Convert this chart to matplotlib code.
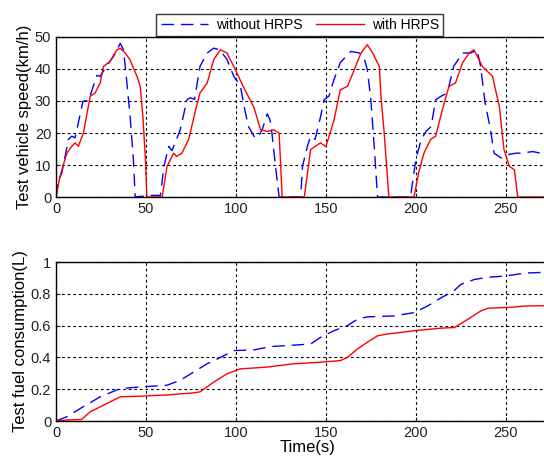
import numpy as np
import matplotlib.pyplot as plt

plt.rcParams['font.family'] = ['Liberation Sans', 'DejaVu Sans']

# speed without HRPS (blue dashed)
t_spd_a = [0, 1.3, 3.2, 6.9, 8.7, 10.6, 15, 18, 22.7, 24.5, 28, 32, 35.7, 37.5, 39.4,
           41.2, 43, 44, 52, 58, 60, 62.6, 64.5, 69, 72.8, 74.7, 77, 80, 84, 87.6, 91,
           95, 98.8, 102.5, 105, 107, 110, 112, 114.6, 117.4, 119, 120, 122, 124, 136,
           137, 139.7, 141.5, 144, 147, 149, 151.7, 154.5, 158, 163.8, 168.5, 171, 173,
           175, 177, 178.7, 197, 200, 203, 205.6, 208.5, 211, 214, 217.5, 221, 226,
           230.6, 234, 236, 238.5, 241.5, 243.5, 247.4, 251, 255.6, 258.5, 265, 271]
v_spd_a = [0, 5, 7.5, 18, 19, 18.5, 30, 30, 38, 37.7, 40.8, 44, 48, 46, 35.6,
           25, 11.7, 0, 0.5, 0.5, 9.6, 15.8, 14.5, 21, 30.4, 31, 30.5, 40.8, 45, 46.5, 46,
           43, 37.7, 34.6, 27, 22, 19, 18.4, 21, 26, 24, 20, 9.6, 0, 0,
           9.6, 15.8, 19, 18, 25, 30.4, 31.5, 36.7, 42, 45.5, 45, 44, 39.8,
           30.4, 14.8, 0, 0, 11.7, 18, 20.5, 22, 30.4, 31.5, 32.5, 40.8, 45,
           45, 46, 40.8, 29.4, 21, 13.7, 12.2, 13.2, 13.7, 13.7, 14.2, 13.5]

# speed with HRPS (red solid)
t_spd_b = [0, 2.2, 6, 8.7, 10.6, 12.4, 15.2, 19, 21.7, 24.5, 26.4, 30, 33.8, 35.7, 38.4,
           41, 45, 46.8, 48.3, 49.6, 50.5, 59, 61.7, 65.4, 67, 70, 73.7, 77.5, 80, 84,
           87.7, 91.4, 95, 98.8, 104, 110, 113.7, 117.4, 121, 124, 125.7, 138, 141.5,
           144, 147, 150, 154.5, 158, 162, 165.8, 169.5, 173, 176, 179.7, 180.6, 182.4,
           185, 199, 201.5, 204.5, 208.2, 211, 214.6, 218.4, 222, 226, 229.6, 232.3,
           237, 242.6, 246.4, 249, 252, 254.8, 256.6, 271]
v_spd_b = [0, 6.5, 13.7, 15.8, 16.9, 15.8, 20, 31.5, 32.5, 35.6, 40.8, 42.4, 46, 46.5, 45,
           43, 37.7, 34.6, 25, 12.7, 0, 0, 9.6, 13.7, 12.7, 13.7, 18, 27, 32.5, 35.6,
           43, 46, 45, 40.8, 34.6, 28, 21, 20.5, 21, 20, 0, 0, 14.8,
           15.8, 16.9, 15.8, 24, 33.5, 34.6, 39.8, 45, 47.6, 45, 40.8, 31.5, 20,
           0, 0, 7.5, 13.7, 18, 19, 27, 34.6, 35.6, 42, 45, 46,
           40.8, 37.7, 28.3, 14.8, 9.6, 8.5, 0, 0]

# fuel consumption without HRPS
t_fuel_a = [0, 6, 15, 24.5, 35.7, 46.8, 61.7, 69, 76.5, 84, 91.4, 98.8, 110, 119, 136,
            141.5, 147, 154.5, 162, 167.5, 173, 188, 199, 206.5, 214, 221, 225, 232.5,
            240, 247.4, 254.8, 260, 271]
f_fuel_a = [0, 0.027, 0.089, 0.152, 0.204, 0.214, 0.225, 0.256, 0.308, 0.36, 0.40, 0.443,
            0.447, 0.468, 0.48, 0.484, 0.526, 0.568, 0.6, 0.64, 0.655, 0.661, 0.682, 0.723,
            0.775, 0.817, 0.859, 0.89, 0.904, 0.91, 0.92, 0.93, 0.935]

# fuel consumption with HRPS
t_fuel_b = [0, 6, 14.3, 19, 24.5, 35.7, 46.8, 61.7, 76.5, 80, 87.7, 95, 102.5, 117.4,
            132, 147, 158, 162, 167.5, 173, 178.7, 184, 191.6, 199, 214, 221.5, 229,
            236, 240, 247.4, 254.8, 260, 271]
f_fuel_b = [0, 0.006, 0.01, 0.058, 0.089, 0.152, 0.156, 0.164, 0.177, 0.183, 0.245, 0.297,
            0.328, 0.339, 0.36, 0.37, 0.38, 0.40, 0.453, 0.495, 0.536, 0.547, 0.557, 0.568,
            0.584, 0.588, 0.64, 0.692, 0.709, 0.713, 0.717, 0.723, 0.725]

x_ticks = [0, 50, 100, 150, 200, 250]
spd_ticks = [0, 10, 20, 30, 40, 50]
fuel_ticks = [0, 0.2, 0.4, 0.6, 0.8, 1.0]
fuel_labels = ['0', '0.2', '0.4', '0.6', '0.8', '1']

fig = plt.figure(figsize=(5.44, 4.63), dpi=100)
ax1 = fig.add_axes([0.103, 0.5745, 0.926, 0.3456])
ax2 = fig.add_axes([0.103, 0.0907, 0.926, 0.3434])

dash = (0, (9, 5))
grid_kw = dict(color='black', linestyle=(0, (2.5, 2.5)), linewidth=0.8)

ax1.plot(t_spd_a, v_spd_a, color='#0000ff', linestyle=dash, linewidth=1.0, label='without HRPS')
ax1.plot(t_spd_b, v_spd_b, color='#ff0000', linewidth=1.0, label='with HRPS')
ax2.plot(t_fuel_a, f_fuel_a, color='#0000ff', linestyle=dash, linewidth=1.0)
ax2.plot(t_fuel_b, f_fuel_b, color='#ff0000', linewidth=1.0)

for ax in (ax1, ax2):
    ax.set_xlim(0, 280)
    ax.set_xticks(x_ticks)
    ax.grid(True, **grid_kw)
    ax.tick_params(direction='in', length=3, labelsize=10.5, colors='#222222')
    for s in ax.spines.values():
        s.set_linewidth(1.0)

ax1.set_ylim(0, 50)
ax1.set_yticks(spd_ticks)
ax1.set_ylabel('Test vehicle speed(km/h)', fontsize=12, labelpad=2)
ax2.set_ylim(0, 1)
ax2.set_yticks(fuel_ticks)
ax2.set_yticklabels(fuel_labels)
ax2.set_ylabel('Test fuel consumption(L)', fontsize=12, labelpad=2)
ax2.set_xlabel('Time(s)', fontsize=12, labelpad=0)

leg = ax1.legend(loc='lower center', bbox_to_anchor=(0.484, 1.005), ncol=2,
                 frameon=True, fancybox=False, fontsize=10, handlelength=3.4,
                 borderpad=0.3, columnspacing=1.0, handletextpad=0.6,
                 borderaxespad=0)
leg.get_frame().set_edgecolor('black')
leg.get_frame().set_linewidth(1.0)

fig.savefig('out.png', dpi=100)
